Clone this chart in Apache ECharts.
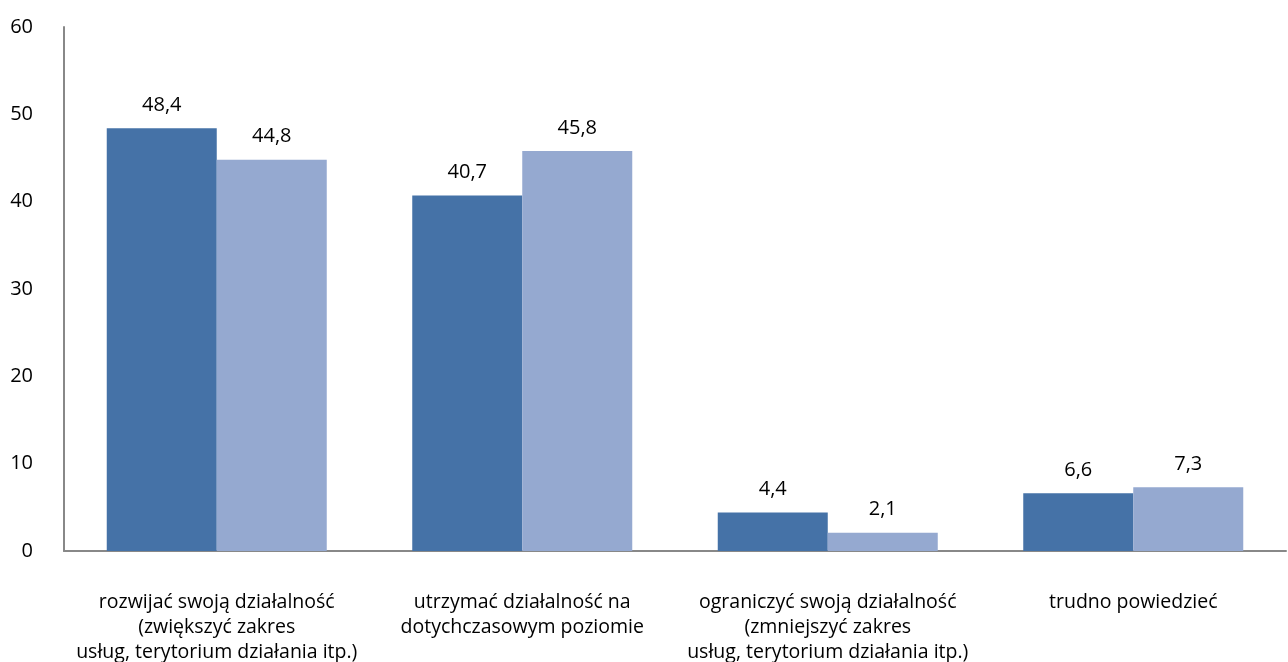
<!DOCTYPE html>
<html><head><meta charset="utf-8">
<script src="https://cdn.jsdelivr.net/npm/echarts@6/dist/echarts.min.js"></script>
<style>html,body{margin:0;padding:0;background:#fff}#c{width:1288px;height:662px}</style>
</head><body><div id="c"></div>
<script>
const categories = [
  "rozwijać swoją działalność\n(zwiększyć zakres\nusług, terytorium działania itp.)",
  "utrzymać działalność na\ndotychczasowym poziomie",
  "ograniczyć swoją działalność\n(zmniejszyć zakres\nusług, terytorium działania itp.)",
  "trudno powiedzieć"
];
const series1 = [48.4, 40.7, 4.4, 6.6];
const series2 = [44.8, 45.8, 2.1, 7.3];
const yTicks = [0, 10, 20, 30, 40, 50, 60];

const font = "'Open Sans', sans-serif";
const chart = echarts.init(document.getElementById('c'), null, {renderer: 'canvas'});
const lbl = {show: true, position: 'top', distance: 13, color: '#000', fontSize: 20, fontFamily: font,
  formatter: p => String(p.value).replace('.', ',')};
chart.setOption({
  animation: false,
  grid: {left: 64, right: 2, top: 27, bottom: 111, containLabel: false, outerBoundsMode: 'none'},
  xAxis: {type: 'category', data: categories,
    axisLine: {lineStyle: {color: '#888', width: 2}},
    axisTick: {show: false},
    axisLabel: {color: '#000', fontSize: 19.5, fontFamily: font, lineHeight: 25, margin: 39, interval: 0}},
  yAxis: {type: 'value', min: yTicks[0], max: yTicks[yTicks.length-1], interval: 10,
    axisLine: {show: true, lineStyle: {color: '#888', width: 2}},
    axisTick: {show: false}, splitLine: {show: false},
    axisLabel: {color: '#000', fontSize: 20, fontFamily: font, margin: 31}},
  series: [
    {type: 'bar', data: series1, barWidth: 110, barGap: '0%', itemStyle: {color: '#4572A7'}, label: lbl},
    {type: 'bar', data: series2, barWidth: 110, barGap: '0%', itemStyle: {color: '#95A9D0'}, label: lbl}
  ]
});
</script></body></html>
